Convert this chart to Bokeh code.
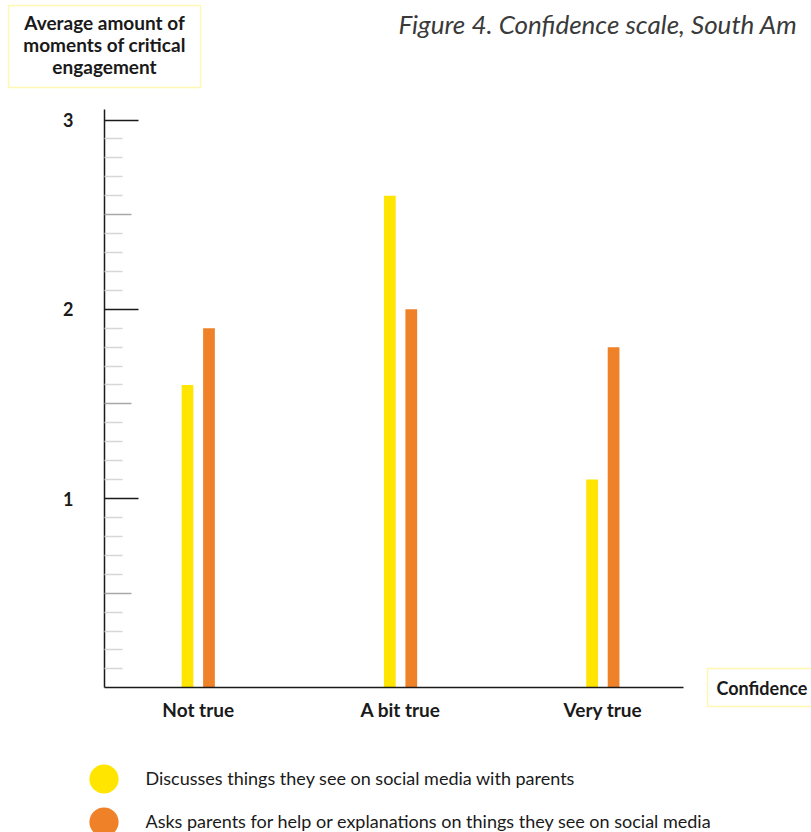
from bokeh.plotting import figure
from bokeh.models import (Range1d, FixedTicker, LinearAxis, Label, ColumnDataSource,
                          BoxAnnotation, Legend, LegendItem)
from bokeh.transform import dodge
from bokeh.embed import file_html
from bokeh.resources import INLINE

# ---------------- data ----------------
categories = ["Not true", "A bit true", "Very true"]
series_names = [
    "Discusses things they see on social media with parents",
    "Asks parents for help or explanations on things they see on social media",
]
discusses = [1.6, 2.6, 1.1]
asks = [1.9, 2.0, 1.8]
colors = ["#FFE500", "#EF8129"]
y_major_ticks = [1, 2, 3]
y_half_ticks = [0.5, 1.5, 2.5]
y_minor_ticks = [round(0.1 * k, 1) for k in range(1, 30) if k % 5 != 0]
y_axis_title = "Average amount of\nmoments of critical\nengagement"
x_axis_title = "Confidence"
chart_title = "Figure 4. Confidence scale, South Am"

FONT = "Lato"
DARK = "#1a1a1a"
BOXC = "#FFE500"
W, H = 811, 832

x_idx = list(range(len(categories)))
source = ColumnDataSource(dict(x=x_idx, discusses=discusses, asks=asks))

# frame covers the whole canvas; axes are pinned with fixed_location
x_axis_pos, x_axis_end = -0.4634, 2.399     # data x of the y-axis line / end of x-axis line
y_top = 3.054
p = figure(width=W, height=H,
           x_range=Range1d(-0.9775, 3.0314), y_range=Range1d(-0.7646, 3.6315),
           output_backend="svg", toolbar_location=None, min_border=0)
p.outline_line_color = None
p.grid.visible = False

bw = 0.058
off = 0.0531
p.vbar(x=dodge("x", -off, range=p.x_range), top="discusses", bottom=0, width=bw,
       source=source, fill_color=colors[0], line_color=None)
p.vbar(x=dodge("x", off, range=p.x_range), top="asks", bottom=0, width=bw,
       source=source, fill_color=colors[1], line_color=None)

# main y axis
ya = p.yaxis[0]
ya.fixed_location = x_axis_pos
ya.bounds = (0, y_top)
ya.ticker = FixedTicker(ticks=y_major_ticks, minor_ticks=y_minor_ticks)
ya.major_tick_in = 34
ya.major_tick_out = 0
ya.major_tick_line_color = DARK
ya.major_tick_line_width = 1.5
ya.minor_tick_in = 18
ya.minor_tick_out = 0
ya.minor_tick_line_color = "#d6d6d6"
ya.minor_tick_line_width = 1.5
ya.axis_line_color = DARK
ya.axis_line_width = 1.5
ya.major_label_standoff = 31
ya.major_label_text_font = FONT
ya.major_label_text_font_style = "bold"
ya.major_label_text_font_size = "18px"
ya.major_label_text_color = DARK

# half-step tick axis
yb = LinearAxis(ticker=FixedTicker(ticks=y_half_ticks, minor_ticks=[]),
                fixed_location=x_axis_pos, bounds=(0, y_top),
                major_tick_in=27, major_tick_out=0,
                major_tick_line_color="#a8a8a8", major_tick_line_width=1.5,
                minor_tick_line_color=None, axis_line_color=None,
                major_label_overrides={t: "" for t in y_half_ticks},
                major_label_standoff=0)
p.add_layout(yb, "left")

xa = p.xaxis[0]
xa.fixed_location = 0
xa.bounds = (x_axis_pos, x_axis_end)
xa.ticker = FixedTicker(ticks=x_idx, minor_ticks=[])
xa.major_label_overrides = {i: c for i, c in zip(x_idx, categories)}
xa.major_tick_line_color = None
xa.minor_tick_line_color = None
xa.axis_line_color = DARK
xa.axis_line_width = 1.5
xa.major_label_standoff = 4
xa.major_label_text_font = FONT
xa.major_label_text_font_style = "bold"
xa.major_label_text_font_size = "19px"
xa.major_label_text_color = DARK

def sy(cy):
    """canvas-from-top pixel -> screen units measured from the frame bottom"""
    return H - cy

# boxed y-axis title
p.add_layout(BoxAnnotation(left=8, right=200, top=sy(5), bottom=sy(87),
                           left_units="screen", right_units="screen",
                           top_units="screen", bottom_units="screen",
                           fill_color="white", fill_alpha=1.0,
                           line_color=BOXC, line_width=1.5))
p.add_layout(Label(x=104, y=sy(44), x_units="screen", y_units="screen",
                   text=y_axis_title, text_align="center", text_baseline="middle",
                   text_font=FONT, text_font_style="bold", text_font_size="19px",
                   text_color=DARK, text_line_height=0.96))

# boxed x-axis title
p.add_layout(BoxAnnotation(left=707, right=840, top=sy(668), bottom=sy(706),
                           left_units="screen", right_units="screen",
                           top_units="screen", bottom_units="screen",
                           fill_color="white", fill_alpha=1.0,
                           line_color=BOXC, line_width=1.5))
p.add_layout(Label(x=716, y=sy(687.3), x_units="screen", y_units="screen",
                   text=x_axis_title, text_align="left", text_baseline="middle",
                   text_font=FONT, text_font_style="bold", text_font_size="18px",
                   text_color=DARK))

# figure title (runs to the right edge like the source)
p.add_layout(Label(x=398, y=sy(23), x_units="screen", y_units="screen",
                   text=chart_title, text_align="left", text_baseline="alphabetic",
                   text_font=FONT, text_font_style="italic", text_font_size="26px",
                   text_color="#3a3a3a"))

# ---------------- legend ----------------
row0_center, row_gap = 778, 43
nan = float("nan")
for i, (name, col) in enumerate(zip(series_names, colors)):
    # legend-only renderer: a single non-drawable point, so only the legend swatch shows
    r = p.scatter(x=[nan], y=[nan], size=29, marker="circle", fill_color=col, line_color=None)
    cy = row0_center + i * row_gap
    lg = Legend(items=[LegendItem(label=name, renderers=[r], index=0)],
                location=(103 - 36.5, sy(cy + 36.5)),
                glyph_width=73, glyph_height=73, label_standoff=6,
                padding=0, margin=0, spacing=0,
                border_line_color=None, background_fill_color=None,
                label_text_font=FONT, label_text_font_size="18px",
                label_text_color=DARK, label_text_baseline="middle")
    p.add_layout(lg)

open("out.html", "w").write(file_html(p, INLINE))
